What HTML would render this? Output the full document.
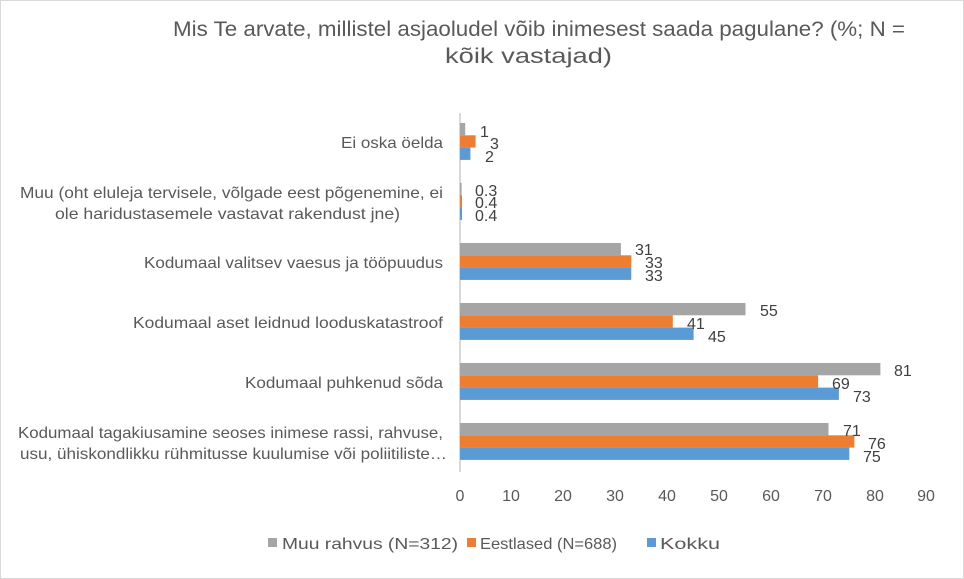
<!DOCTYPE html>
<html><head><meta charset="utf-8"><style>
body{margin:0;background:#fff;}
svg{display:block;font-family:"Liberation Sans",sans-serif;}
</style></head><body>
<svg width="964" height="579" viewBox="0 0 964 579">
<rect x="0.5" y="0.5" width="963" height="578" fill="#fff" stroke="#d9d9d9"/>
<text x="173" y="36" font-size="21" fill="#595959" textLength="732" lengthAdjust="spacingAndGlyphs">Mis Te arvate, millistel asjaoludel võib inimesest saada pagulane? (%; N =</text>
<text x="445" y="63" font-size="21" fill="#595959" textLength="167" lengthAdjust="spacingAndGlyphs">kõik vastajad)</text>
<line x1="460" y1="113" x2="460" y2="472" stroke="#d9d9d9" stroke-width="2"/>
<g font-size="16" fill="#595959">
<text x="341" y="148" textLength="102" lengthAdjust="spacingAndGlyphs">Ei oska öelda</text>
<text x="20" y="198" textLength="423" lengthAdjust="spacingAndGlyphs">Muu (oht eluleja tervisele, võlgade eest põgenemine, ei</text>
<text x="55" y="219" textLength="345" lengthAdjust="spacingAndGlyphs">ole haridustasemele vastavat rakendust jne)</text>
<text x="144" y="268" textLength="299" lengthAdjust="spacingAndGlyphs">Kodumaal valitsev vaesus ja tööpuudus</text>
<text x="133" y="328" textLength="310" lengthAdjust="spacingAndGlyphs">Kodumaal aset leidnud looduskatastroof</text>
<text x="245" y="388" textLength="198" lengthAdjust="spacingAndGlyphs">Kodumaal puhkenud sõda</text>
<text x="18" y="438" textLength="425" lengthAdjust="spacingAndGlyphs">Kodumaal tagakiusamine seoses inimese rassi, rahvuse,</text>
<text x="20" y="459" textLength="427" lengthAdjust="spacingAndGlyphs">usu, ühiskondlikku rühmitusse kuulumise või poliitiliste…</text>
</g>
<g font-size="16" fill="#404040">
<rect x="460" y="123" width="5.2" height="12.3" fill="#a5a5a5"/>
<rect x="460" y="135.3" width="15.6" height="12.3" fill="#ed7d31"/>
<rect x="460" y="147.6" width="10.4" height="12.3" fill="#5b9bd5"/>
<text x="480" y="137">1</text><text x="490" y="149">3</text><text x="485" y="162">2</text>
<rect x="460" y="183" width="1.6" height="12.3" fill="#a5a5a5"/>
<rect x="460" y="195.3" width="2" height="12.3" fill="#ed7d31"/>
<rect x="460" y="207.6" width="2" height="12.3" fill="#5b9bd5"/>
<text x="475" y="196">0.3</text><text x="475" y="208">0.4</text><text x="475" y="221">0.4</text>
<rect x="460" y="243" width="160.9" height="12.3" fill="#a5a5a5"/>
<rect x="460" y="255.3" width="171.3" height="12.3" fill="#ed7d31"/>
<rect x="460" y="267.6" width="171.3" height="12.3" fill="#5b9bd5"/>
<text x="635" y="255">31</text><text x="645" y="268">33</text><text x="645" y="281">33</text>
<rect x="460" y="303" width="285.5" height="12.3" fill="#a5a5a5"/>
<rect x="460" y="315.3" width="212.8" height="12.3" fill="#ed7d31"/>
<rect x="460" y="327.6" width="233.6" height="12.3" fill="#5b9bd5"/>
<text x="760" y="316">55</text><text x="687" y="329">41</text><text x="708" y="342">45</text>
<rect x="460" y="363" width="420.4" height="12.3" fill="#a5a5a5"/>
<rect x="460" y="375.3" width="358.1" height="12.3" fill="#ed7d31"/>
<rect x="460" y="387.6" width="378.9" height="12.3" fill="#5b9bd5"/>
<text x="894" y="376">81</text><text x="832" y="389">69</text><text x="853" y="402">73</text>
<rect x="460" y="423" width="368.5" height="12.3" fill="#a5a5a5"/>
<rect x="460" y="435.3" width="394.4" height="12.3" fill="#ed7d31"/>
<rect x="460" y="447.6" width="389.3" height="12.3" fill="#5b9bd5"/>
<text x="843" y="436">71</text><text x="868" y="449">76</text><text x="863" y="462">75</text>
</g>
<g font-size="16" fill="#595959" text-anchor="middle">
<text x="460" y="501">0</text><text x="511" y="501">10</text><text x="563" y="501">20</text>
<text x="615" y="501">30</text><text x="667" y="501">40</text><text x="719" y="501">50</text>
<text x="771" y="501">60</text><text x="823" y="501">70</text><text x="875" y="501">80</text>
<text x="926" y="501">90</text>
</g>
<g font-size="16" fill="#595959">
<rect x="268" y="538" width="9" height="9" fill="#a5a5a5"/><text x="282" y="549" textLength="176" lengthAdjust="spacingAndGlyphs">Muu rahvus (N=312)</text>
<rect x="467" y="538" width="9" height="9" fill="#ed7d31"/><text x="480" y="549" textLength="137" lengthAdjust="spacingAndGlyphs">Eestlased (N=688)</text>
<rect x="647" y="538" width="9" height="9" fill="#5b9bd5"/><text x="660" y="549" textLength="60" lengthAdjust="spacingAndGlyphs">Kokku</text>
</g>
</svg>
</body></html>
